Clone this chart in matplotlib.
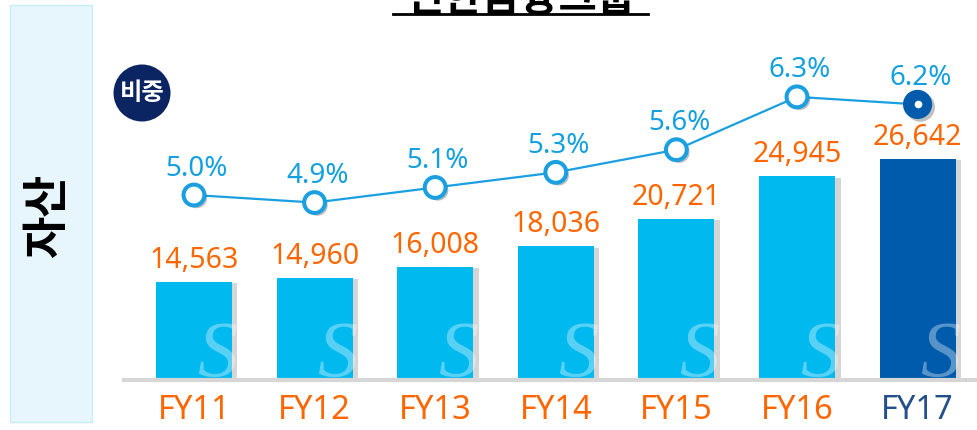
import matplotlib
matplotlib.use("Agg")
import matplotlib.pyplot as plt
from matplotlib.patches import Rectangle, Circle
from matplotlib.lines import Line2D
import matplotlib.patheffects as pe

plt.rcParams['font.family'] = ['Noto Sans', 'Noto Sans CJK KR', 'DejaVu Sans']

# ---- data ----
years = ["FY11", "FY12", "FY13", "FY14", "FY15", "FY16", "FY17"]
assets = [14563, 14960, 16008, 18036, 20721, 24945, 26642]
share = [5.0, 4.9, 5.1, 5.3, 5.6, 6.3, 6.2]
asset_labels = ["14,563", "14,960", "16,008", "18,036", "20,721", "24,945", "26,642"]
share_labels = ["5.0%", "4.9%", "5.1%", "5.3%", "5.6%", "6.3%", "6.2%"]
title = "신한금융그룹"
side_label = "자산"
badge = "비중"

# ---- style ----
LIGHT = "#00b9ef"
DARK = "#005bac"
ORANGE = "#ff6600"
LINEBLUE = "#1a9fe0"
TXTBLUE = "#14a0de"
NAVY = "#0b2462"

W, H = 978, 430
fig = plt.figure(figsize=(W / 100, H / 100), dpi=100)

ax = fig.add_axes([124 / W, 50 / H, (W - 124) / W, 380 / H])
x = list(range(len(years)))
ax.set_xlim(-0.580, 6.501)
ax.set_ylim(4898, 42263)
colors = [LIGHT] * (len(years) - 1) + [DARK]
bars = ax.bar(x, assets, width=0.63, color=colors, zorder=2)
for b in bars:
    b.set_path_effects([pe.SimplePatchShadow(offset=(4, -1), shadow_rgbFace='#888888', alpha=0.35),
                        pe.Normal()])

# watermark-like S inside bars
for i, b in enumerate(bars):
    t = ax.text(i + 0.19, 4898 + 300, "S", fontsize=58, family="Liberation Serif",
                style="italic", color="white", alpha=0.35, ha="center", va="baseline",
                zorder=3)
    t.set_clip_path(b)

for i, (v, lab) in enumerate(zip(assets, asset_labels)):
    ax.annotate(lab, (i, v), xytext=(0, 10), textcoords="offset points",
                ha="center", va="baseline", fontsize=20.5, color=ORANGE, zorder=4)

for s in ["top", "left", "right"]:
    ax.spines[s].set_visible(False)
ax.spines["bottom"].set_color("#d6d6d6")
ax.spines["bottom"].set_linewidth(3)
ax.set_yticks([])
ax.set_xticks(x, labels=years)
ax.tick_params(axis="x", length=0, pad=10, labelsize=23.5)
for lab, c in zip(ax.get_xticklabels(), [ORANGE] * 6 + ["#234f8a"]):
    lab.set_color(c)

ax2 = ax.twinx()
ax2.set_ylim(2.550, 7.583)
ax2.axis("off")
ax2.plot(x, share, color=LINEBLUE, lw=1.6, zorder=5)
ax2.plot(x[:-1], share[:-1], linestyle="none", marker="o", ms=15, mew=2.9,
         mfc="white", mec=LINEBLUE, zorder=6,
         path_effects=[pe.SimplePatchShadow(offset=(2, -2), shadow_rgbFace='k', alpha=0.25),
                       pe.Normal()])
ax2.plot(x[-1:], share[-1:], linestyle="none", marker="o", ms=21, mew=0,
         mfc=DARK, zorder=6,
         path_effects=[pe.SimplePatchShadow(offset=(2, -2), shadow_rgbFace='k', alpha=0.25),
                       pe.Normal()])
ax2.plot(x[-1:], share[-1:], linestyle="none", marker="o", ms=5.5, mew=0,
         mfc="white", zorder=7)
for i, (v, lab) in enumerate(zip(share, share_labels)):
    ax2.annotate(lab, (i, v), xytext=(2, 14), textcoords="offset points",
                 ha="center", va="baseline", fontsize=20, color=TXTBLUE, zorder=8)

# left panel
fig.add_artist(Rectangle((0.10, 0.08), 0.82, 4.17, transform=fig.dpi_scale_trans,
                         facecolor="#e7f6fd", edgecolor="#c8ecf8", lw=1, zorder=0))
fig.text(48 / W, 1 - 216 / H, side_label, rotation=90, ha="center", va="center",
         fontsize=33, fontweight="bold", color="black",
         family=["Noto Sans CJK KR", "DejaVu Sans"])

# badge
fig.add_artist(Circle((1.42, 3.37), 0.285, transform=fig.dpi_scale_trans,
                      facecolor=NAVY, edgecolor="none", zorder=5))
fig.text(1.42 * 100 / W, 3.37 * 100 / H, badge, ha="center", va="center",
         fontsize=17.5, fontweight="bold", color="white",
         family=["Noto Sans CJK KR", "DejaVu Sans"], zorder=6)

# title (cut off at top, as in the source)
fig.text(521 / W, 1 - 11 / H, title, ha="center", va="baseline",
         fontsize=30, fontweight="bold", color="black",
         family=["Noto Sans CJK KR", "DejaVu Sans"])
fig.add_artist(Line2D([393 / W, 648 / W], [1 - 14 / H] * 2, color="black", lw=2))

fig.savefig("out.png", dpi=100)
